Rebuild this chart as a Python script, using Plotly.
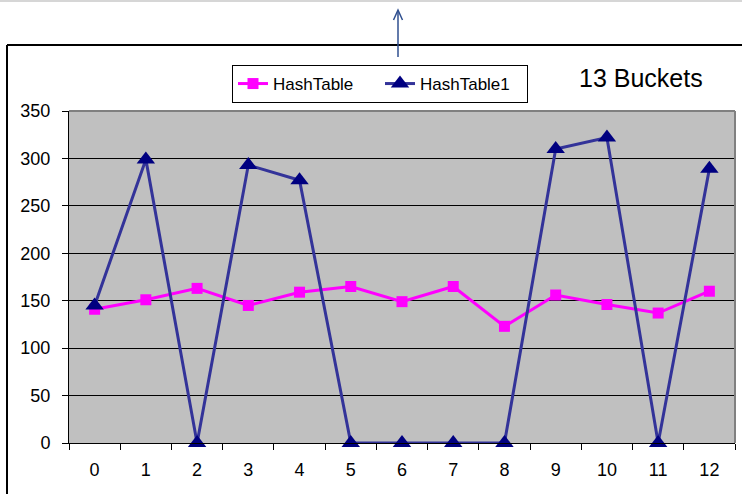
import plotly.graph_objects as go

categories = [str(i) for i in range(13)]
hashtable = [141, 151, 163, 145, 159, 165, 149, 165, 123, 156, 146, 137, 160]
hashtable1 = [145, 299, 0, 293, 277, 0, 0, 0, 0, 310, 322, 0, 289]
y_ticks = [0, 50, 100, 150, 200, 250, 300, 350]

W, H = 742, 494
L, R, T, B = 69, 735, 111, 443


def px(x):
    return (x - L) / (R - L)


def py(y):
    return (B - y) / (B - T)


FONT = "Liberation Sans, Arial, sans-serif"

fig = go.Figure()
fig.add_trace(go.Scatter(
    x=categories, y=hashtable, name="HashTable", mode="lines+markers",
    line=dict(color="#FF00FF", width=3),
    marker=dict(symbol="square", size=11, color="#FF00FF"),
    cliponaxis=False,
))
fig.add_trace(go.Scatter(
    x=categories, y=hashtable1, name="HashTable1", mode="lines+markers",
    line=dict(color="#333399", width=3),
    marker=dict(symbol="triangle-up", size=16, color="#000080"),
    cliponaxis=False,
))

shapes = [
    # top light gray line
    dict(type="line", xref="paper", yref="paper", x0=px(-5), x1=px(W + 5), y0=py(1), y1=py(1),
         line=dict(color="#D6D6D6", width=2)),
    # outer frame (top and left)
    dict(type="line", xref="paper", yref="paper", x0=px(7), x1=px(W + 10), y0=py(45), y1=py(45),
         line=dict(color="#000000", width=2)),
    dict(type="line", xref="paper", yref="paper", x0=px(7), x1=px(7), y0=py(45), y1=py(H + 10),
         line=dict(color="#000000", width=2)),
    # plot-area top and right gray border
    dict(type="line", xref="paper", yref="paper", x0=0, x1=1, y0=1, y1=1,
         line=dict(color="#808080", width=2)),
    dict(type="line", xref="paper", yref="paper", x0=1, x1=1, y0=0, y1=1,
         line=dict(color="#808080", width=2)),
    # arrow shaft and head
    dict(type="line", xref="paper", yref="paper", x0=px(398), x1=px(398), y0=py(57), y1=py(11),
         line=dict(color="#2F4F8F", width=1.5)),
    dict(type="path", xref="paper", yref="paper",
         path=f"M {px(393.5)} {py(20)} L {px(398)} {py(10)} L {px(402.5)} {py(20)}",
         line=dict(color="#2F4F8F", width=1.5)),
]

fig.update_layout(
    width=W, height=H,
    margin=dict(l=L, r=W - R, t=T, b=H - B, pad=0),
    paper_bgcolor="#FFFFFF",
    plot_bgcolor="#C0C0C0",
    font=dict(family=FONT, size=18, color="#000000"),
    showlegend=True,
    legend=dict(
        orientation="h", x=px(232), y=py(65), xanchor="left", yanchor="top",
        bgcolor="#FFFFFF", bordercolor="#000000", borderwidth=1,
        font=dict(family=FONT, size=17), tracegroupgap=0,
        entrywidth=102, entrywidthmode="pixels",
    ),
    shapes=shapes,
    annotations=[
        dict(text="13 Buckets", xref="paper", yref="paper", x=px(641), y=py(78),
             xanchor="center", yanchor="middle",
             showarrow=False, font=dict(family=FONT, size=25, color="#000000")),
    ],
    xaxis=dict(
        type="category", range=[-0.5, 12.5], tickson="boundaries", ticks="outside", ticklen=6,
        tickcolor="#000000", showline=True, linecolor="#000000", linewidth=1,
        showgrid=False, zeroline=False, tickfont=dict(size=18),
        ticklabelstandoff=10,
    ),
    yaxis=dict(
        range=[0, 350], tickvals=y_ticks, ticks="outside", ticklen=6,
        tickcolor="#000000", showline=True, linecolor="#000000", linewidth=1,
        showgrid=True, gridcolor="#000000", gridwidth=1, zeroline=False,
        tickfont=dict(size=18), ticklabelstandoff=8,
    ),
)

fig.write_html(
    "out.html",
    config={"displayModeBar": False},
    post_script="document.body.style.margin='0';document.body.style.overflow='hidden';",
)
